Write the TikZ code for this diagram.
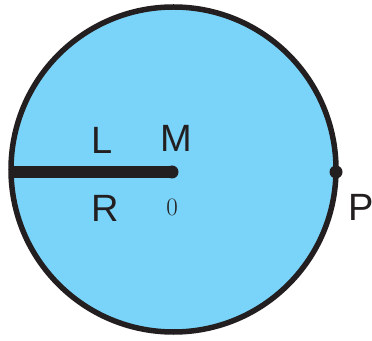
\documentclass[tikz,border=0pt]{standalone}
\usepackage{fontspec}
\newfontfamily\hv{Liberation Sans}
\definecolor{disk}{RGB}{122,211,248}
\definecolor{ink}{RGB}{35,31,32}
\begin{document}
\begin{tikzpicture}[x=1pt,y=1pt,
  lbl/.style={inner sep=0pt,font=\hv\fontsize{38}{38}\selectfont,text=ink},
  dotpt/.style={circle,fill=ink,inner sep=0pt,minimum size=13pt}]
\useasboundingbox (0,0) rectangle (372,340);
\draw[ink,line width=5.5pt,fill=disk] (173.5,170.5) circle (162.5);
\coordinate (E) at (11,168);
\node[dotpt] (M0) at (172,168) {};
\node[dotpt] (Pd) at (336,168) {};
\draw[ink,line width=12pt] (E) -- (M0.center);
\node[lbl] (L) at (102,200) {L};
\node[lbl] (M) at (176,202) {M};
\node[lbl] (R) at (105,132) {R};
\node[inner sep=0pt,font=\fontsize{25}{25}\selectfont,text=ink] (Z) at (172,133) {0};
\node[lbl,anchor=west] (P) at (348,133) {P};
\end{tikzpicture}
\end{document}
